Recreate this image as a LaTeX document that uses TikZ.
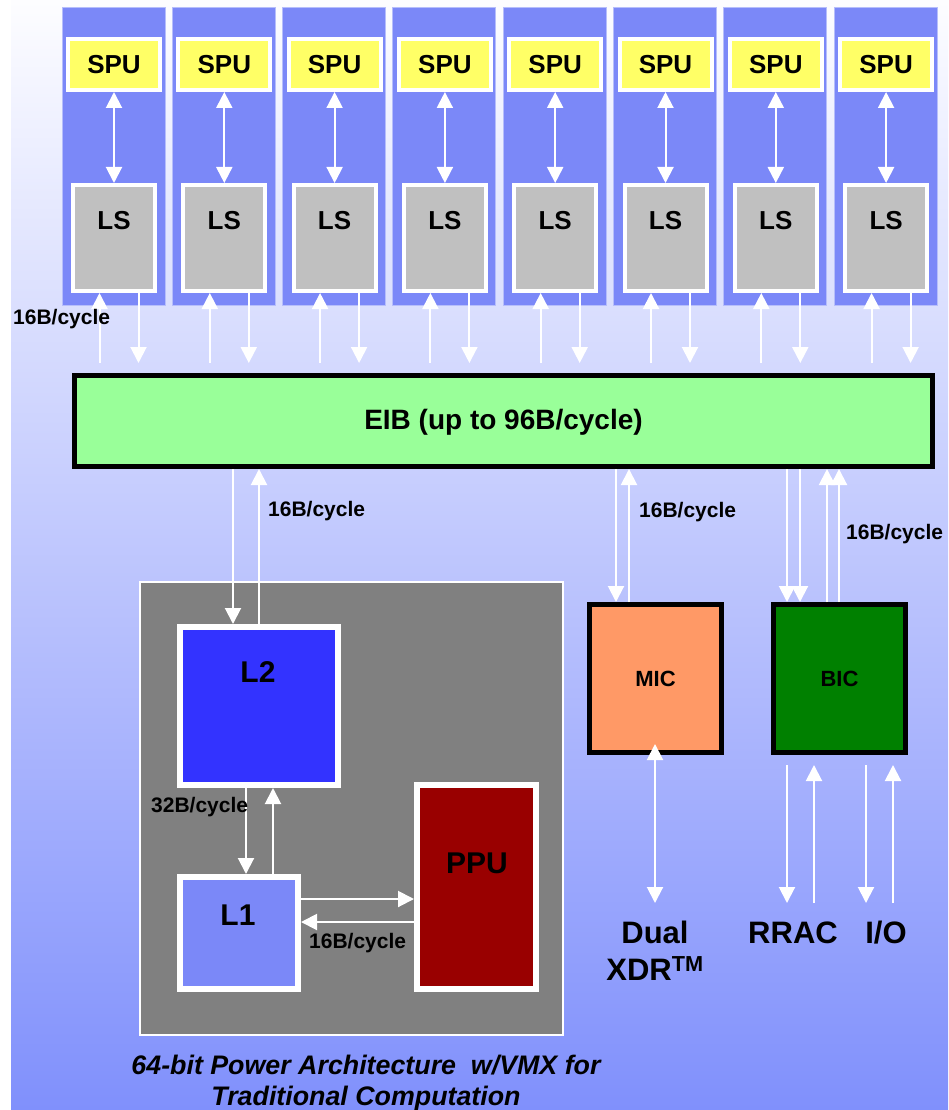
\documentclass[tikz,border=0pt]{standalone}
\usepackage{fontspec}
\setmainfont{Liberation Sans}
\usetikzlibrary{arrows.meta}
\definecolor{colblue}{RGB}{123,136,248}
\definecolor{spuyellow}{RGB}{255,255,102}
\definecolor{lsgray}{RGB}{192,192,192}
\definecolor{eibgreen}{RGB}{153,255,153}
\definecolor{ppegray}{RGB}{128,128,128}
\definecolor{ltwo}{RGB}{51,51,255}
\definecolor{pputred}{RGB}{153,0,0}
\definecolor{micorange}{RGB}{255,153,102}
\definecolor{bicgreen}{RGB}{0,128,0}
\definecolor{bgtop}{RGB}{253,253,255}
\definecolor{bgbot}{RGB}{128,144,252}
\tikzset{
  fs/.style={font=\fontsize{#1}{#1}\selectfont\bfseries},
  colbox/.style={draw=white!45!colblue, line width=1pt, fill=colblue, inner sep=0pt, minimum width=103pt, minimum height=297pt},
  spubox/.style={draw=white, line width=4pt, fill=spuyellow, inner sep=0pt, minimum width=92pt, minimum height=51pt, fs=26},
  lsbox/.style={draw=white, line width=4pt, fill=lsgray, inner sep=0pt, minimum width=82pt, minimum height=106pt},
  wbox/.style={draw=white, line width=6pt, inner sep=0pt},
  kbox/.style={draw=black, line width=5pt, inner sep=0pt},
  wa/.style={draw=white, line width=2pt, -{Triangle[width=16pt,length=16pt]}},
  wda/.style={draw=white, line width=2pt, {Triangle[width=16pt,length=16pt]}-{Triangle[width=16pt,length=16pt]}},
  lbl/.style={inner sep=0pt, fs=21},
}
\begin{document}
\begin{tikzpicture}[x=1pt,y=-1pt]
\useasboundingbox (0,0) rectangle (948,1110);
\shade[top color=bgtop, bottom color=bgbot, middle color=bgtop!50!bgbot] (11,0) rectangle (948,1110);

% SPE columns
\foreach \i in {0,...,7} {
  \pgfmathsetmacro\cx{62+110.3*\i}
  \node[colbox] (col\i) at (\cx+51.5,156.5) {};
  \node[spubox] (spu\i) at (\cx+52,64.5) {SPU};
  \node[lsbox] (ls\i) at (\cx+52,238) {};
  \node[inner sep=0pt, fs=26] (lst\i) at (\cx+52,221) {LS};
  \draw[wda] (spu\i.south) -- (ls\i.north);
  \coordinate (ua\i) at (\cx+37.5,363);
  \coordinate (da\i) at (\cx+76.5,363);
  \draw[wa] (ua\i) -- (ua\i |- ls\i.south);
  \draw[wa] (da\i |- ls\i.south) -- (da\i);
}
\node[lbl, anchor=west] (spel) at (13,319) {16B/cycle};

% EIB
\node[kbox, fill=eibgreen, minimum width=858pt, minimum height=91pt] (eib) at (503.5,421) {};
\node[inner sep=0pt, fs=28] (eibt) at (503.5,422) {EIB (up to 96B/cycle)};

% PPE
\node[draw=white, line width=1.5pt, fill=ppegray, inner sep=0pt, minimum width=423pt, minimum height=453pt] (ppe) at (351.5,808.5) {};
\node[wbox, fill=ltwo, minimum width=158pt, minimum height=158pt] (l2) at (259,706) {};
\node[inner sep=0pt, fs=30] (l2t) at (258,672) {L2};
\node[wbox, fill=colblue, minimum width=118pt, minimum height=112pt] (l1) at (239,933) {};
\node[inner sep=0pt, fs=30] (l1t) at (238,915) {L1};
\node[wbox, fill=pputred, minimum width=119pt, minimum height=204pt] (ppu) at (476.5,887) {};
\node[inner sep=0pt, fs=30] (ppt) at (477,863) {PPU};

\coordinate (e1) at (233,0);
\coordinate (e2) at (259,0);
\draw[wa] (eib.south -| e1) -- (l2.north -| e1);
\draw[wa] (l2.north -| e2) -- (eib.south -| e2);
\node[lbl, anchor=west] (l2l) at (268,511) {16B/cycle};

\coordinate (c1) at (246,0);
\coordinate (c2) at (273,0);
\draw[wa] (l2.south -| c1) -- (l1.north -| c1);
\draw[wa] (l1.north -| c2) -- (l2.south -| c2);
\node[lbl, anchor=west] (l1l) at (151,807) {32B/cycle};

\coordinate (p1) at (0,899);
\coordinate (p2) at (0,922);
\draw[wa] (l1.east |- p1) -- (ppu.west |- p1);
\draw[wa] (ppu.west |- p2) -- (l1.east |- p2);
\node[lbl, anchor=west] (ppl) at (309,943) {16B/cycle};

\node[inner sep=0pt, align=center, font=\fontsize{26.8}{31}\selectfont\bfseries\itshape] (cap) at (366,1083) {64-bit Power Architecture \ w/VMX for\\Traditional Computation};

% MIC / BIC
\node[kbox, fill=micorange, minimum width=132pt, minimum height=148pt, fs=22] (mic) at (655.5,678.5) {MIC};
\node[kbox, fill=bicgreen, minimum width=132pt, minimum height=148pt, fs=22] (bic) at (839.5,678.5) {BIC};

\coordinate (m1) at (616,0);
\coordinate (m2) at (629,0);
\draw[wa] (eib.south -| m1) -- (mic.north -| m1);
\draw[wa] (mic.north -| m2) -- (eib.south -| m2);
\node[lbl, anchor=west] (micl) at (639,512) {16B/cycle};

\coordinate (b1) at (787,0);
\coordinate (b2) at (800,0);
\coordinate (b3) at (827,0);
\coordinate (b4) at (839,0);
\draw[wa] (eib.south -| b1) -- (bic.north -| b1);
\draw[wa] (eib.south -| b2) -- (bic.north -| b2);
\draw[wa] (bic.north -| b3) -- (eib.south -| b3);
\draw[wa] (bic.north -| b4) -- (eib.south -| b4);
\node[lbl, anchor=west] (bicl) at (846,534) {16B/cycle};

% external links
\coordinate (xdr) at (655,903);
\draw[wda, shorten <=-11pt] (mic.south -| xdr) -- (xdr);
\node[inner sep=0pt, align=center, font=\fontsize{31}{37}\selectfont\bfseries] (xdrt) at (655,951) {Dual\\XDR\textsuperscript{TM}};

\coordinate (r1t) at (787,765); \coordinate (r1b) at (787,903);
\coordinate (r2t) at (814,765); \coordinate (r2b) at (814,903);
\coordinate (i1t) at (866,765); \coordinate (i1b) at (866,903);
\coordinate (i2t) at (893,765); \coordinate (i2b) at (893,903);
\draw[wa] (r1t) -- (r1b);
\draw[wa] (r2b) -- (r2t);
\draw[wa] (i1t) -- (i1b);
\draw[wa] (i2b) -- (i2t);
\node[inner sep=0pt, fs=31] (rrac) at (793,933) {RRAC};
\node[inner sep=0pt, fs=31] (io) at (886,933) {I/O};
\end{tikzpicture}
\end{document}
